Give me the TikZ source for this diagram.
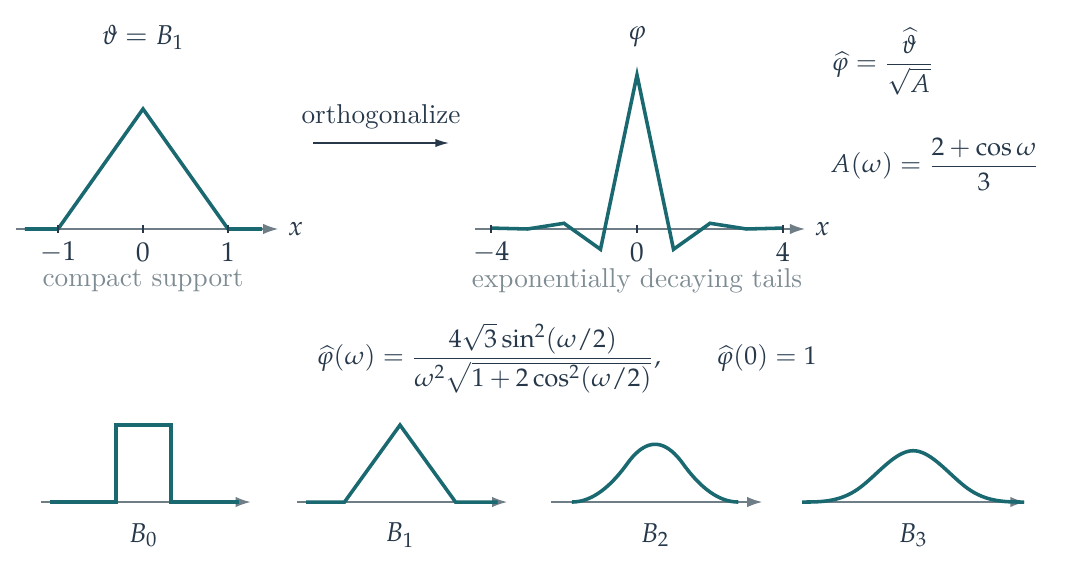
\documentclass[tikz,border=0pt]{standalone}
\usepackage{mathpazo}
\usetikzlibrary{arrows.meta,positioning}

\definecolor{splinecol}{HTML}{1A6870}
\definecolor{axiscol}{HTML}{6E7D86}
\definecolor{inkcol}{HTML}{26384A}
\definecolor{notecol}{HTML}{7D8B92}

\tikzset{
  axis/.style={draw=axiscol, line width=0.55pt, -{Latex[length=5.5pt,width=3.8pt]}},
  spline/.style={draw=splinecol, line width=1.3pt},
  tick/.style={draw=inkcol, line width=0.45pt},
  note/.style={text=notecol},
  formula/.style={anchor=mid, scale=0.94},
}

\begin{document}
\begin{tikzpicture}[color=inkcol]
\useasboundingbox (0,0) rectangle (13.751,7.353);

% theta = B_1
\begin{scope}[shift={(1.845,4.399)}, x=1.0965cm, y=1.548cm]
\draw[axis] (-1.5,0) -- (1.59,0) coordinate (tipa);
\draw[spline] (-1.39,0) -- (-1,0) -- (0,1) -- (1,0) -- (1.4,0);
\foreach \t in {-1,0,1} {
  \draw[tick] (\t,0) ++(0,-1.3pt) -- ++(0,2.6pt);
  \node (ta\t) at ([yshift=-0.297cm]\t,0) {$\t$};
}
\end{scope}
\node (xa) at ([xshift=0.225cm]tipa) {$x$};
\node[note] (supp) at (1.845,3.728) {compact support};
\node (theta) at (1.845,6.876) {$\vartheta = B_1$};

% orthogonalize
\coordinate (o1) at (4.038,5.508);
\coordinate (o2) at (5.792,5.508);
\node (orth) at (4.915,5.844) {orthogonalize};
\draw[line width=0.5pt, -{Latex[length=5pt,width=3pt]}] (o1) -- (o2);

% phi
\begin{scope}[shift={(8.217,4.399)}, x=0.471cm, y=1.987cm]
\draw[axis] (-4.44,0) -- (4.6,0) coordinate (tipb);
\draw[spline] (-4,0.006) -- (-3,0) -- (-2,0.037) -- (-1,-0.132) -- (0,1)
  -- (1,-0.132) -- (2,0.037) -- (3,0) -- (4,0.006);
\foreach \t in {-4,0,4} {
  \draw[tick] (\t,0) ++(0,-1.3pt) -- ++(0,2.6pt);
  \node (tb\t) at ([yshift=-0.297cm]\t,0) {$\t$};
}
\end{scope}
\node (xb) at ([xshift=0.225cm]tipb) {$x$};
\node[note] (tails) at (8.217,3.728) {exponentially decaying tails};
\node (phi) at (8.217,6.876) {$\varphi$};

% formulas
\node[formula] (phihat) at (11.385,6.515) {$\displaystyle \widehat{\varphi} = \frac{\widehat{\vartheta}}{\sqrt{A}}$};
\node[formula] (aom) at (12.06,5.199) {$\displaystyle A(\omega) = \frac{2+\cos\omega}{3}$};
\node[formula] (fourier) at (7.308,2.722) {$\displaystyle \widehat{\varphi}(\omega) = \frac{4\sqrt{3}\sin^2(\omega/2)}{\omega^2\sqrt{1+2\cos^2(\omega/2)}}, \qquad \widehat{\varphi}(0) = 1$};

% B-splines
\begin{scope}[shift={(1.851,0.877)}, x=0.716cm, y=0.993cm]
\draw[axis] (-1.84,0) -- (1.93,0);
\draw[spline] (-1.69,0) -- (-0.5,0) -- (-0.5,1) -- (0.5,1) -- (0.5,0) -- (1.72,0);
\end{scope}
\begin{scope}[shift={(5.16,0.877)}, x=0.716cm, y=0.993cm]
\draw[axis] (-1.85,0) -- (1.93,0);
\draw[spline] (-1.69,0) -- (-1,0) -- (0,1) -- (1,0) -- (1.76,0);
\end{scope}
\begin{scope}[shift={(8.45,0.877)}, x=0.716cm, y=0.993cm]
\draw[axis] (-1.87,0) -- (1.93,0);
\draw[spline] plot[domain=-1.5:1.5, samples=61, smooth]
  (\x,{0.5*(max(0,1.5-abs(\x)))^2 - 1.5*(max(0,0.5-abs(\x)))^2});
\end{scope}
\begin{scope}[shift={(11.78,0.877)}, x=0.716cm, y=0.993cm]
\draw[axis] (-2,0) -- (2.02,0);
\draw[spline] plot[domain=-2:2, samples=81, smooth]
  (\x,{(max(0,2-abs(\x)))^3/6 - 4*(max(0,1-abs(\x)))^3/6});
\end{scope}
\foreach \k/\cx in {0/1.851,1/5.16,2/8.45,3/11.78}
  \node (b\k) at (\cx,0.45) {$B_\k$};
\end{tikzpicture}
\end{document}
